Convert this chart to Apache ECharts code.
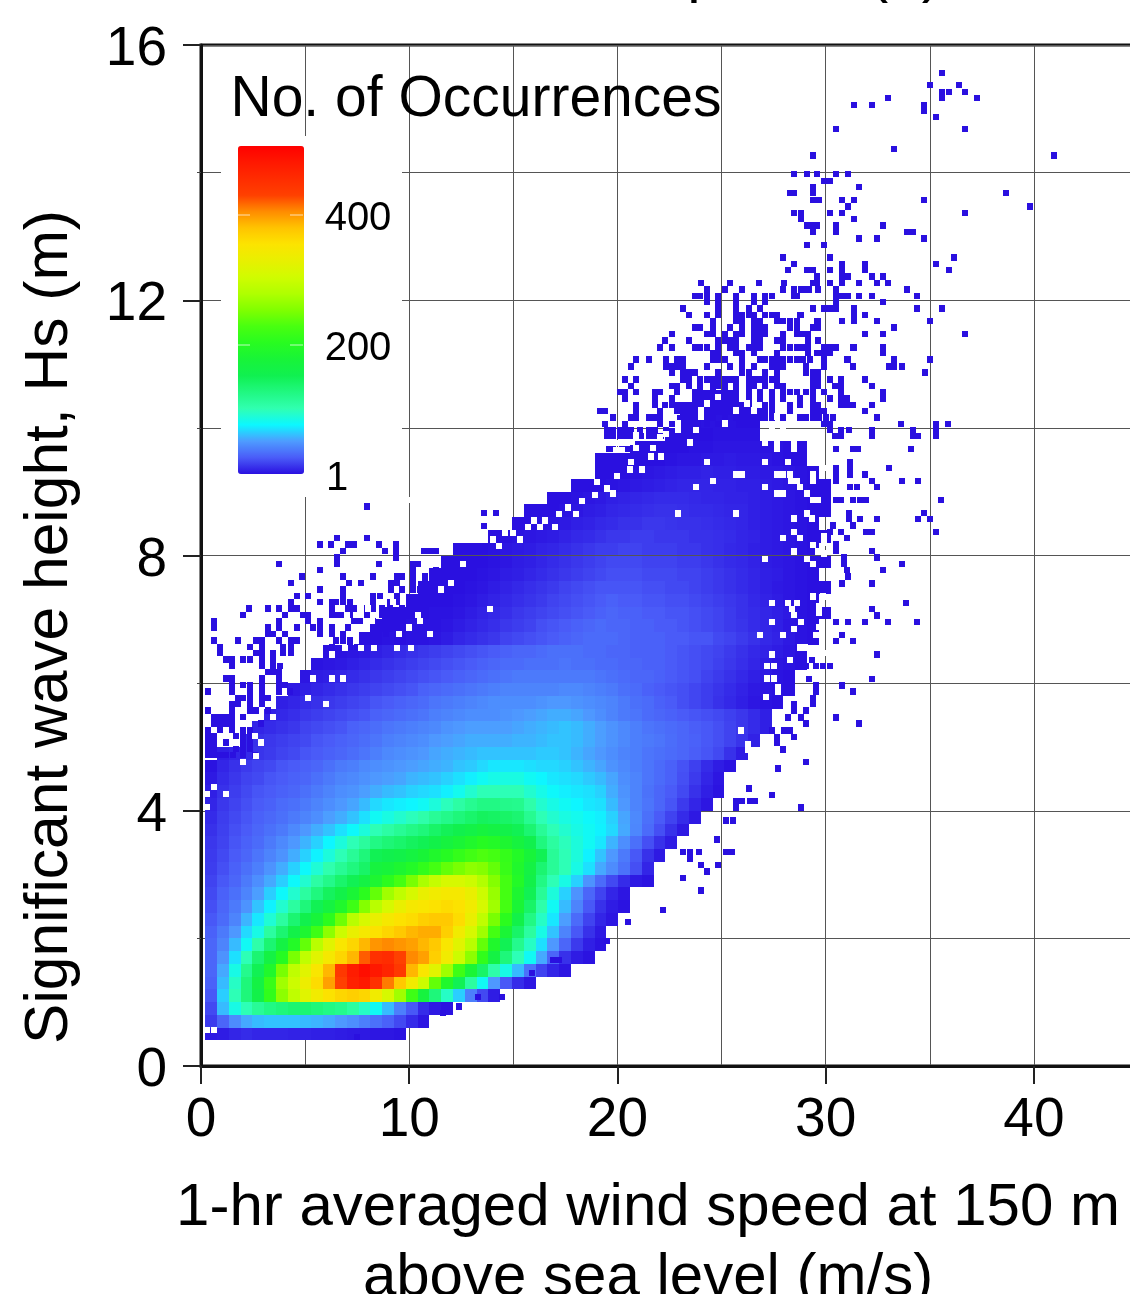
<!DOCTYPE html>
<html><head><meta charset="utf-8">
<style>html,body{margin:0;padding:0;background:#fff;overflow:hidden}#c{width:1130px;height:1294px}</style>
<script src="https://cdn.jsdelivr.net/npm/echarts@6/dist/echarts.min.js"></script>
</head><body><div id="c"></div>
<script>
// Occurrence counts, binned 0.5667 m/s x 0.2 m. Row r is Hs = 0.5 + 0.2 r.
var denseStartColumn=[0,0,0,0,0,0,0,0,0,0,0,0,0,0,0,0,0,0,0,0,0,0,1,3,4,5,6,7,8,9,10,13,14,15,17,18,19,20,21,24,26,27,29,31,33,33,36,39,40,41,42];
var denseCounts=[
[4,5,8,10,8,8,8,7,7,6,6,5,4,4,3,3,2],
[15,30,45,55,60,62,62,62,60,58,55,50,46,40,34,28,20,10,3],
[20,60,85,100,115,125,130,135,135,130,125,120,110,95,80,60,40,25,10,4,2],
[25,65,100,130,160,210,260,290,320,340,355,365,370,365,340,310,270,220,170,130,95,65,40,20,5],
[28,60,95,130,165,215,270,300,335,360,395,430,470,480,450,410,375,340,300,240,190,150,110,80,50,25,10,3],
[30,55,85,120,150,190,250,290,320,350,385,440,475,490,480,465,440,385,350,320,270,220,180,140,105,85,60,35,18,8,3],
[30,48,70,100,135,165,200,250,290,320,345,365,385,420,450,455,430,405,395,370,340,300,260,210,165,130,100,80,55,30,12,5,2],
[30,42,60,80,105,135,165,195,240,285,320,350,365,385,400,405,400,395,385,375,350,320,285,240,190,150,120,95,70,50,30,15,6,2],
[28,38,50,68,85,110,135,160,185,220,260,300,330,345,355,365,375,385,390,390,370,340,310,270,225,180,140,110,85,62,42,25,12,4],
[25,32,42,58,72,90,110,135,155,175,205,245,285,310,330,345,355,360,370,375,375,360,330,290,250,205,160,125,95,72,52,32,18,8,3],
[22,30,38,48,62,75,92,110,130,150,168,190,220,255,285,310,330,345,350,355,360,355,340,310,270,225,180,140,105,80,60,42,25,12,5,2],
[20,28,34,42,52,65,78,92,110,128,145,160,180,205,240,270,290,310,330,340,345,345,330,300,265,225,185,150,115,88,66,48,30,18,8,3],
[18,25,30,38,46,55,65,78,92,108,122,138,150,165,185,205,225,250,275,295,310,310,300,280,255,225,195,160,125,100,85,66,48,32,20,10,4,2],
[16,22,28,34,40,48,56,66,78,90,103,116,128,140,170,175,185,195,210,225,240,250,260,255,240,215,190,165,135,115,100,85,70,55,45,35,22,8],
[15,20,26,30,36,42,48,56,66,75,88,100,115,130,150,155,160,168,178,190,200,212,222,230,225,212,195,175,150,115,100,88,75,62,50,38,25,12,4],
[14,18,24,28,32,38,44,50,58,66,76,88,100,112,125,132,138,145,150,160,170,180,190,200,195,185,170,155,128,110,98,88,80,72,58,46,34,22,12,5],
[12,17,22,26,30,34,38,44,50,56,62,70,78,88,100,108,116,124,130,140,148,155,162,170,165,158,150,135,115,100,92,85,80,75,68,55,43,32,22,12,4],
[10,16,20,24,28,31,34,38,42,46,52,56,62,70,80,86,92,98,105,115,122,130,138,145,142,140,135,118,100,92,86,82,78,74,66,54,44,34,26,18,10,4],
[8,14,18,22,26,28,32,34,38,42,46,50,54,60,68,72,74,76,80,88,98,108,118,125,125,122,120,105,92,85,80,76,72,70,60,50,42,36,30,24,15,8,3],
[6,12,16,20,24,26,28,30,34,38,42,46,48,52,56,60,62,66,68,70,74,82,92,100,100,100,100,92,84,78,74,72,70,66,56,48,42,35,30,26,20,12,6,2],
[4,10,14,18,20,24,26,28,30,34,38,42,44,47,50,52,54,58,60,62,66,70,74,80,84,86,86,80,76,72,70,68,64,60,54,46,42,36,32,28,22,15,8,3],
[2,8,12,15,18,20,24,26,28,30,34,38,40,44,46,48,50,52,54,56,58,62,64,68,72,72,72,70,68,68,66,62,58,54,48,44,40,36,32,28,23,17,10,5,2],
[6,8,10,13,15,18,20,24,26,28,30,33,36,40,44,46,48,50,54,56,58,60,62,62,62,62,62,64,64,62,58,54,50,46,42,40,36,34,32,30,27,24,20,12,5],
[10,12,14,16,18,20,24,26,28,30,33,36,40,42,44,46,50,52,54,56,56,56,56,58,58,60,62,62,60,56,52,48,44,40,38,36,33,30,28,25,22,18,13,7],
[8,10,12,14,18,20,22,24,28,30,33,36,38,40,42,44,48,50,52,52,52,52,54,56,58,60,62,60,56,52,48,44,40,36,34,32,30,27,25,22,18,14,10,6],
[7,9,11,14,16,18,20,22,24,28,30,32,34,36,40,42,44,46,46,46,48,50,52,54,56,56,54,50,46,42,38,36,32,30,28,26,24,22,20,17,14,10,6],
[6,8,10,12,14,16,18,20,24,26,28,30,32,36,38,40,42,44,46,46,46,46,48,50,50,48,46,44,42,38,34,32,28,26,22,19,16,12,9,6,3,2,1],
[4,6,8,10,12,14,16,18,20,22,24,28,30,32,34,36,38,40,42,42,42,42,42,44,44,42,40,38,34,32,28,26,24,22,19,16,13,10,7,4,3,2,1],
[3,5,6,8,10,12,14,16,18,20,22,24,26,28,30,32,34,36,38,38,38,38,38,38,38,36,34,32,30,30,28,26,24,22,18,15,12,9,6,4,2,1],
[2,3,4,6,8,10,12,14,16,18,20,22,24,26,28,30,32,32,34,34,34,36,34,34,32,32,30,30,28,28,26,24,22,20,17,14,11,8,5,3,2,1],
[1,2,3,4,6,8,10,12,14,16,18,20,22,24,26,28,30,30,32,34,34,34,32,32,30,30,28,28,28,26,24,22,20,18,15,12,9,7,5,3,1],
[1,1,2,1,2,2,3,5,8,10,12,14,18,20,22,24,26,28,30,32,32,32,30,28,28,28,26,26,24,24,20,18,15,12,9,7,4,2,1],
[1,1,1,2,2,2,3,5,7,9,11,14,16,18,22,24,26,28,30,32,30,30,28,28,26,26,24,22,20,18,15,13,10,8,6,3,2,1],
[1,1,1,1,2,2,3,5,7,9,11,14,16,18,20,22,24,26,28,30,28,28,26,26,24,24,22,20,18,15,12,10,8,6,4,2,1,1],
[1,1,1,1,2,3,5,7,9,11,13,15,18,20,22,24,26,28,26,26,24,24,22,22,20,18,16,14,12,9,7,5,3,2,1],
[1,1,1,1,2,3,5,7,9,11,13,15,18,20,22,24,24,24,24,22,22,20,20,18,16,14,12,10,8,6,4,3,2,1,1],
[1,1,1,1,2,3,5,6,8,10,12,14,16,18,20,22,22,22,20,20,20,18,18,16,14,12,10,8,6,5,3,2,1],
[1,1,1,1,2,3,5,6,8,10,12,14,16,18,20,20,20,18,18,18,16,16,14,12,10,9,7,5,4,3,2,1,1],
[1,1,1,2,3,4,5,7,8,10,12,14,16,16,18,18,16,16,16,14,14,12,11,9,8,6,5,4,3,2,1],
[1,1,2,3,4,5,7,9,10,12,14,14,16,16,14,14,14,12,12,11,10,8,7,5,4,3,2,1,1],
[1,1,2,3,4,6,7,9,10,12,12,14,14,13,12,12,11,10,9,8,6,5,4,3,2,1],
[1,1,1,2,3,5,6,8,9,10,11,12,12,11,10,10,9,8,8,6,5,4,3,2,1,1],
[1,1,2,3,4,6,7,8,9,10,10,10,9,8,8,7,7,6,5,4,3,2,1,1],
[1,1,1,2,3,4,5,6,7,8,8,8,7,7,6,6,5,4,3,2,1,1],
[1,1,1,2,3,4,5,6,6,7,6,6,5,5,4,4,3,2,1],
[1,1,1,1,1,1,2,3,3,4,4,5,4,4,3,2,1,1],
[1,1,1,1,1,2,2,3,3,3,3,2,2,1,1],
[1,1,1,1,2,2,2,2],
[1,1,2,2,2,1,1],
[1,1,1,1,1],
[1,1,1]
];
// Sparse single occurrences: wave height, then the wind speeds seen at that height.
var sparseHeights=[15.56,15.37,15.26,15.17,15.06,14.97,14.87,14.68,14.37,14.27,13.98,13.87,13.77,13.68,13.57,13.47,13.37,13.27,13.17,13.07,12.97,12.87,12.67,12.57,12.47,12.37,12.27,12.17,12.07,11.97,11.87,11.77,11.67,11.57,11.47,11.37,11.26,11.17,11.07,10.96,10.87,10.76,10.66,10.56,10.46,10.36,10.26,10.16,10.06,9.97,9.87,9.67,9.47,9.37,9.27,9.17,9.07,8.87,8.67,8.57,8.47,8.37,8.27,8.17,8.07,7.97,7.87,7.77,7.67,7.56,7.26,7.16,7.06,6.96,6.75,6.66,6.45,6.36,6.27,6.06,5.96,5.87,5.77,5.67,5.57,5.46,5.37,5.26,5.16,5.06,4.96,4.76,4.66,4.35,4.25,4.15,4.05,3.85,3.55,3.35,3.25,3.15,3.05,2.95,2.75,2.44,2.26,1.96,1.66,1.46,1.08,0.93,0.83,0.45,
8.77,8.67,8.46,8.27,8.17,8.07,7.97,7.87,7.77,7.67,7.57,7.47,7.37,7.27,7.17,7.07,6.97,6.87,6.77,6.67,6.57,6.47,6.37,6.27,6.17,6.07,5.97,5.87,5.77,5.67,5.57,5.47,5.37,5.27,5.17,5.07,4.97,4.87];
var sparseSpeeds=[
[35.6],[35,36.4],[35.6,35.9,36.7],[33,35.6,37.25],[31.35,32.2,34.7],[34.7],[35.3],[30.5,36.7],[33.3],[29.4,40.95],
[28.5,29.1,29.6,30.5,31.05],[29.9,30.2],[29.4,31.6],[28.3,28.5,29.4,38.65],[29.4,29.7,30.8,31.35,34.7],[31.05,39.8],[28.5,28.8,30.2,30.8,36.7],[28.8,31.35],[29.1,29.4,29.6,30.5,32.75],[29.4,30.5,33.9,34.2],[31.6,32.45,34.7],[29.1,29.9],
[27.95,30.2,36.15],[28.5,30.8,31.9,35.3],[28.2,29.1,29.4,30.2,30.8,31.9,35.9],[29.6,30.8,31.05,32.2,32.75],[24,25.4,26.8,28,29.4,29.6,30.2,30.8,31.6,32.45,33],[24.3,25.15,26,27.95,28.5,28.8,28.9,29.2,29.65,30.5,33.9],[23.7,23.95,24.3,24.85,25.7,26.55,27.1,27.4,28.5,28.6,30.5,30.8,31.05,31.6,32.2,34.4],[24.3,24.85,25.7,26.55,27.1,30.5,32.75],[23.15,24.85,25.7,26.3,26.85,29.4,29.9,30.2,30.35,30.5,31.35,34.4,35.6],[23.45,24.3,24.85,25.7,26,26.3,26.55,27.1,27.4,27.65,28.75,28.8,31.35,31.9],[24.6,25.7,26,26.55,26.85,27.65,27.95,28.3,28.6,29.6,29.65,30.8,31.35,32.45,35],[23.7,23.95,24.6,25.4,26,26.55,26.85,27.1,28.3,28.6,29.4,29.6,29.65,33.3],[22.6,24.3,24.6,25.15,25.7,26,26.55,26.85,27.1,27.95,28.6,28.9,29.15,31.9,32.75,36.7],[22.3,23.45,24.85,25.15,25.4,25.7,26.55,26.85,27.65,27.95,29.15,29.65],
[22.05,22.6,23.7,23.95,24.3,24.85,25.4,25.7,26.3,26.55,26.85,27.95,28.3,28.6,28.9,29.15,29.9,30.2,30.5,31.3,31.35,32.75],[24.6,24.85,25.7,26,26.55,27.65,29.15,29.6,29.65,29.9,30.2,32.75],[20.9,21.5,22.35,22.85,23.15,24.6,24.85,25.15,26,26.85,27.1,27.4,27.65,27.95,28.3,28.6,28.9,29.25,29.9,31,31.05,33.3,35],[20.65,22.35,22.6,22.85,23.15,24.3,25.4,26,26.55,27.4,27.65,27.95,29.05,29.9,31.3,33.05,33.3,33.65],[22.6,23.15,23.45,23.7,24.85,26,26.3,27.1,27.65,29.05,29.4,29.65,34.75],[20.35,20.9,23.15,23.45,23.95,24.3,24.6,24.85,25.15,25.4,25.7,26.3,26.55,26.85,27.1,27.4,27.65,29.4,29.65,30.2,30.75,31.9],[20.65,22.6,22.85,23.45,23.95,24.6,24.85,25.15,25.7,26.3,26.55,27.1,27.65,27.95,29.4,29.65,30.45,30.75,32.2],[20.1,20.35,20.9,21.8,22.05,22.85,23.7,23.95,24.6,25.15,25.7,26.3,26.85,27.4,27.95,28.3,28.6,29.05,29.4,29.9,30.75,32.75],[20.35,21.8,22.6,23.7,23.95,24.6,25.15,25.7,26.3,26.85,27.4,27.95,28.75,29.4,30.2,30.75,31,32.75],[20.9,21.8,22.3,22.6,22.85,23.15,23.45,24.6,25.15,25.7,26,26.3,27.1,27.4,28.3,28.75,29.4,29.65,30.75,31,31.3,32.2],[19.15,19.4,20.9,22.05,22.85,23.15,23.45,23.7,24.6,25.15,26.3,26.85,27.1,27.4,28.3,29.4,29.65,29.9,31.9],[19.8,20.65,20.9,21.5,21.8,22.05,23.15,23.45,23.7,24.3,24.6,25.15,25.7,26,26.3,26.55,26.85,27.1,27.4,27.95,28.75,29.05,29.4,29.7,30,30.35,32.45],[19.4,20.35,22.05,22.6,23.15,23.7,24.3,24.85,29.9,30.2,33.6,35.3,35.85],[19.5,19.8,20.1,20.35,20.65,21.1,21.5,21.8,22.35,30.2,30.75,31.1,32.2,34.2,35.3],[19.5,19.8,20.1,20.35,20.65,21.15,21.5,21.8,22.1,30.45,30.75,32.2,34.2,34.45,35.3],[19.6,19.8,20.2,20.35,20.6,21.15,21.5,21.7,22.2,30.5,31.3,31.55,34.1],
[31.15],[30.5,31.15,33.05],[30.5,31.15,31.9],[30.5,32.2,33.65,34.45],[31.15,31.5,32.45],[30.5,30.75,31.3,31.65,31.95,35.55],[31.1,34.7],[31.1,31.65,32.45,34.45,35],[30.35,31.3],[30.2,30.75,31.95,32.2,35.3],[31],[30.5],[30.5,32.2],[30.9,32.45],[30.9,33.65],[31,32.75],[31.07],[30.8,32.2],[33.87],[32.2],[32.46],[30.5,31.07,31.9,33,34.4],[30.8],[30.5,31.3],[32.46],[29.35],[29.07,29.55,29.87,30.2],[29.2,32.2],[29.55,30.8],[29.55,31.3],[29.4],[28.5,29.4],[28.5,29.07],[28.2,28.8,30.5],[29.07,31.6],[27.4,28,28.3],[27.65,28.5],[27.65],[27.95],[29.07],[27.7],[26.3],[27.4],[25.7,26,26.35,26.6],[25.7,28.8],[25.2,25.55],[24.8],[23.15,23.5,23.9,25.2,25.5],[23.5],[24,24.85],[24.3],[23.15],[24],[22.2],[20.5],[19.5],[16.9,17.2],[15.9],[13.3,14.45],[12.4],[11.6],[7.5],
[7.95],[13.6,14.15],[13.6],[6.55,7.95],[5.7,6.25,7.07,7.35,8.55,9.35],[6.83,8.83,9.35,10.7,11,11.3],[6.55,9.35],[3.73,6.55,8.55,10.2,10.43],[5.7,10.2,11.3],[4.85,6.83,8.24,9.4,9.63,10.2,10.75,11.07],[4.3,7.1,7.68,9.1,9.4,10.2,10.75],[5.7,6.83,9.1,9.63,10.2,10.5],[4.6,5.12,6.83,8.27,8.6,9.4],[4.3,5.7,6.27,6.5,6.83,7.15,8.27,9.07,9.4],[2.3,3.2,3.74,4.3,4.6,6.27,7.07,7.35,7.95,8.27,8.67,9.07,9.63],[2.03,4.03,4.9,5.15,6.27,6.55,6.83,7.15,7.95,8.67,9.07],[0.62,3.74,5.15,5.7,7.35,7.63,8.27,9.07,9.63],[0.62,3.2,3.74,4.6,5.4,5.7,6.27,7.07,8.27],[3.2,3.47,4.03,5.7,6.27,6.83,8.27,8.9,9.63],[0.62,1.76,2.64,2.91,3.74,4.3,4.6,6.5,6.83,7.15,8.43],[0.91,2.35,2.91,3.95,4.3,6.27,7.15,7.47,8.35],[0.91,2.64,2.91,3.47,3.95,4.3],[1.2,1.47,2.03,2.35,2.91,3.47],[1.47,2.91,3.47,3.79],[3.2,3.47,3.74],[1.2,1.47,2.91,3.74],[1.47,2.03,2.35,2.91,3.74,4.03],[0.35,1.47,2.35,2.91,3.74,4.27],[1.76,2.03,2.35,2.91,3.2],[1.47,1.76,2.35,2.91],[0.35,1.47,2.35,2.64,3.23],[0.62,0.91,1.2,1.47,2.03],[0.62,0.91,1.2,1.47,2.9],[0.35,0.91,1.47,2.03,2.35],[0.35,0.62,1.7,2.03,2.35],[0.35,0.62,1.2,2.03,2.35],[0.35,0.62,1.7,2.03,2.35],[0.35,0.62,0.91,1.2,1.55,2.03,2.6]
];
var sparseCount=1;
// Empty bins inside the dense cloud: wind speed, wave height.
var emptySpeeds=[20.65,24.3,27.1,28.2,25.7,26,24.6,23.75,27.1,27.65,27.95,19.8,22.9,25.7,28.5,27.95,27.1,23.5,27.1,27.65,27.65,23.75,25.15,25.7,24,24,27.4,27.4,26.83,27.95,27.4,27.2,27.5,27.2,27.5,27.7,27.7,27.15,25.95,26.27,26.27,5.4,6.27,6.83,6,5.15,3.47,2.03,2.64,2.9,2.6,13.87,0.62,0.3,1.2,0.3,0.3,0.6,
28.5,28.5,29.65,29.9,27.65,27.95,28.3,28.35,28.6,29.4,29.4,28.75,29.1,29.4,29.65,29.1,29.35,28.5,28.75,29.4,29.65,28.5,29.1,29.4,29.9,29.9,29.9,28.2,28.6,28.4,28.5,28.8,28.5,29.4,29.87,29.7,29.7,29,28.75,28.27,28.75,29.87,29.7,29.55,
19.95,20.2,19.95,20.2,20.9,20.9,20.7,21.7,22.05,22.35,22.9,22.9,24.3,24.85,26,26,26.55,26.2,27.4,27.95,27.65,28.3,28.3,
9.5,10,10.5,11,7,8,9.2,10.4,11.5,12,12.6,8.2,8.8,7.6,9.9,
14,14.6,15,15.7,16,16.5,17.2,17.6,18.3,18.9,19.5,19,20,20.6,21.2,21.6,22.1,14.3,15.3,16.3,17,18,6.3,6.9,7.7,8.3,9.4,10.1];
var emptyHeights=[9.47,9.47,9.47,9.47,9.27,9.27,9.17,9.07,9.07,8.97,8.97,8.97,8.66,8.66,8.58,8.27,7.95,9.77,9.77,9.77,9.67,9.97,10.07,10.27,10.28,10.18,7.26,6.96,6.75,6.75,6.45,6.27,6.27,6.07,6.07,5.94,5.87,5.78,5.26,5.05,4.95,6.07,6.07,6.07,5.67,5.77,5.47,4.76,4.86,5.07,5.17,7.16,4.37,4.26,4.26,4.06,0.56,0.56,
9.77,9.67,9.47,9.37,9.27,9.27,9.27,9.17,9.17,9.27,9.17,9.07,8.97,8.87,8.87,8.66,8.58,8.37,8.27,8.16,8.06,8.06,7.95,7.87,8.3,8.2,8.03,7.26,7.26,7.16,7.07,6.96,6.85,7.36,7.36,7.2,7.1,6.56,6.56,6.36,6.15,6.47,6.88,6.75,
9.76,9.76,9.65,9.65,9.88,9.68,9.78,9.68,9.86,9.9,9.97,10.07,10.38,10.48,10.7,10.6,10.27,10.38,9.97,9.97,10.18,10.15,10.05,
6.77,6.87,6.97,6.77,7.07,7.17,7.27,7.07,7.47,7.57,7.87,6.97,7.27,7.37,8.87,
8.25,8.35,8.35,8.45,8.55,8.55,8.65,8.75,8.85,8.95,9.05,9.15,9.25,9.35,9.35,9.55,9.55,8.15,8.25,8.45,8.45,8.65,6.45,6.55,6.55,6.55,6.55,6.55];
var legendTicks=[400,200,1];
var xTickLabels=[0,10,20,30,40];
var yTickLabels=[0,4,8,12,16];
var colorRamp=['#2a10e0','#4a5cf8','#4e9cff','#0cf8ff','#30ffb0','#20f880','#10f050','#18f438','#28fc20','#48ff10','#80ff00','#b0ff00','#d0fc00','#e8f000','#fce400','#ffc400','#ff8c00','#ff4000','#ff2c00','#ff1800','#ff0000'];

var DENSE_W=0.5667,DENSE_H=0.2,FINE_W=0.2833,FINE_H=0.1;
var denseCells=[];
denseCounts.forEach(function(row,r){
  row.forEach(function(v,i){
    var c=denseStartColumn[r]+i;
    denseCells.push([0.2+DENSE_W*(c+0.5),0.5+DENSE_H*r,v]);
  });
});
var sparseCells=[];
sparseHeights.forEach(function(h,k){
  (sparseSpeeds[k]||[]).forEach(function(s){sparseCells.push([s,h,sparseCount]);});
});
var emptyCells=emptySpeeds.map(function(s,k){return [s,emptyHeights[k],0];});

function cellRenderer(w,h,fixed){
  return function(params,api){
    var a=api.coord([api.value(0)-w/2,api.value(1)+h/2]);
    var b=api.coord([api.value(0)+w/2,api.value(1)-h/2]);
    var x=Math.round(a[0]),y=Math.round(a[1]);
    return {type:'rect',shape:{x:x,y:y,width:Math.max(6,Math.round(b[0])-x),height:Math.max(6,Math.round(b[1])-y)},
      style:{fill:fixed||api.visual('color')}};
  };
}
var FONT='"Liberation Sans",Arial,sans-serif';
function txt(s,x,y,size,rot){
  return {type:'text',x:x,y:y,z:10,rotation:rot||0,
    style:{text:s,font:size+'px '+FONT,fill:'#000',align:'center',verticalAlign:'middle'}};
}
var chart=echarts.init(document.getElementById('c'),null,{renderer:'canvas'});
chart.setOption({
  animation:false,
  backgroundColor:'#fff',
  grid:{left:201,top:45,width:937,height:1021,show:true,borderColor:'#111',borderWidth:3,backgroundColor:'transparent',outerBoundsMode:'none'},
  xAxis:{type:'value',min:0,max:45,interval:10,
    axisLine:{lineStyle:{color:'#111',width:3}},
    axisTick:{length:18,lineStyle:{color:'#222',width:2}},
    minorTick:{show:false,splitNumber:2},
    axisLabel:{margin:27,color:'#000',fontSize:55,fontFamily:FONT,hideOverlap:false,
      showMaxLabel:false,formatter:function(v){return xTickLabels.indexOf(v)>=0?String(v):'';}},
    splitLine:{show:true,lineStyle:{color:'#555',width:1}},
    minorSplitLine:{show:true,lineStyle:{color:'#555',width:1}}},
  yAxis:{type:'value',min:0,max:16,interval:4,
    axisLine:{lineStyle:{color:'#111',width:3}},
    axisTick:{length:18,lineStyle:{color:'#222',width:2}},
    minorTick:{show:true,splitNumber:2,length:4,lineStyle:{color:'#444',width:1}},
    axisLabel:{margin:34,formatter:function(v){return yTickLabels.indexOf(v)>=0?'{t|'+v+'}':'';},
      rich:{t:{color:'#000',fontSize:55,fontFamily:FONT,padding:[10,0,0,0]}}},
    splitLine:{show:true,lineStyle:{color:'#555',width:1}},
    minorSplitLine:{show:true,lineStyle:{color:'#555',width:1}}},
  visualMap:{type:'continuous',show:true,seriesIndex:[0,1],dimension:2,min:1,max:505,
    left:238,top:146,itemWidth:66,itemHeight:328,padding:0,calculable:false,text:null,
    showLabel:false,inRange:{color:colorRamp},textStyle:{color:'transparent',fontSize:1},z:6},
  graphic:{elements:[
    {type:'rect',z:1,shape:{x:221,y:136,width:181,height:361},style:{fill:'#fff'}},
    txt('No. of Occurrences',476,100,57),
    txt('400',358,219,40),txt('200',358,349,40),txt('1',337,479,40),
    txt('1-hr averaged wind speed at 150 m',648,1208,60),
    txt('above sea level (m/s)',648,1278,60),
    txt('Significant wave height, Hs (m)',50,627,60.5,Math.PI/2),
    txt('p',704,-26,60),txt('(a)',905,-26,60),
    {type:'line',z:8,shape:{x1:238,y1:215,x2:250,y2:215},style:{stroke:'#fff',lineWidth:1,opacity:.7}},
    {type:'line',z:8,shape:{x1:290,y1:215,x2:303,y2:215},style:{stroke:'#fff',lineWidth:1,opacity:.7}},
    {type:'line',z:8,shape:{x1:238,y1:345,x2:250,y2:345},style:{stroke:'#fff',lineWidth:1,opacity:.7}},
    {type:'line',z:8,shape:{x1:290,y1:345,x2:303,y2:345},style:{stroke:'#fff',lineWidth:1,opacity:.7}}
  ]},
  series:[
    {type:'custom',name:'Occurrences',coordinateSystem:'cartesian2d',data:denseCells,z:2,silent:true,
      renderItem:cellRenderer(DENSE_W,DENSE_H),encode:{x:0,y:1}},
    {type:'custom',name:'Sparse occurrences',coordinateSystem:'cartesian2d',data:sparseCells,z:3,silent:true,
      renderItem:cellRenderer(FINE_W,FINE_H),encode:{x:0,y:1}},
    {type:'custom',name:'Empty bins',coordinateSystem:'cartesian2d',data:emptyCells,z:4,silent:true,
      renderItem:cellRenderer(FINE_W,FINE_H,'#fff'),encode:{x:0,y:1}}
  ]
});
</script></body></html>
